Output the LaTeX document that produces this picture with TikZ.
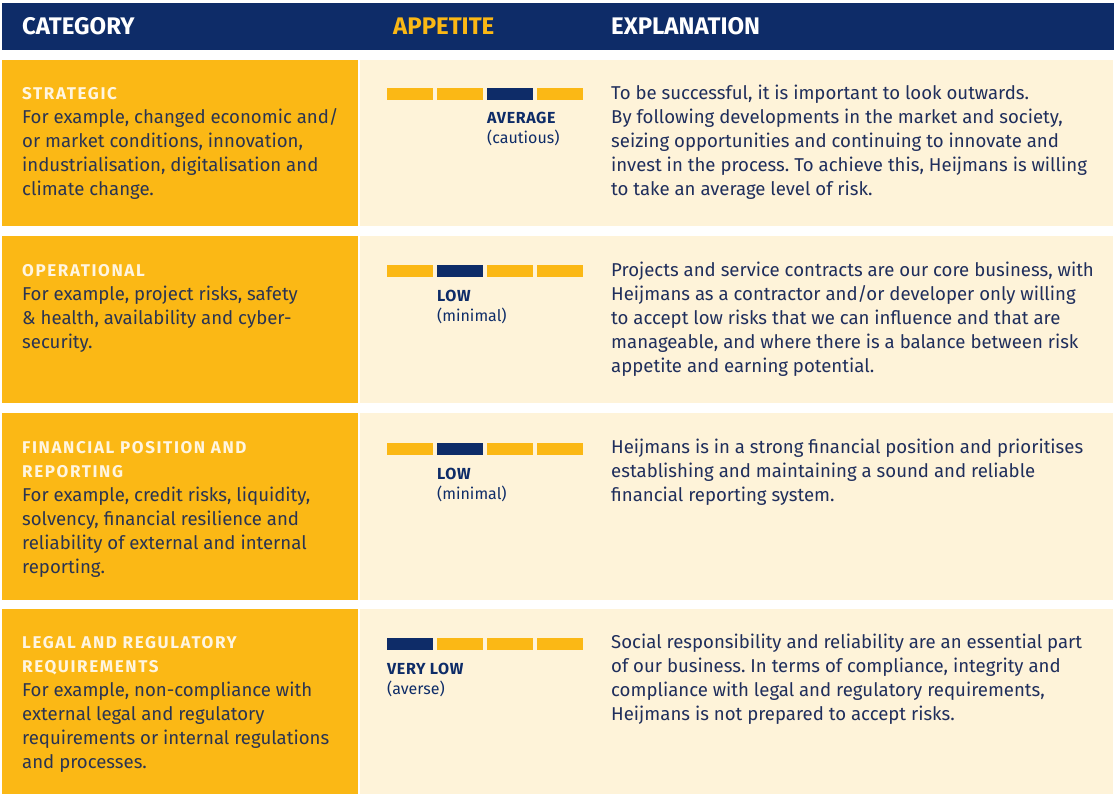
\documentclass[tikz,border=0pt]{standalone}
\usepackage{fontspec}
\setmainfont{Fira Sans}
\newfontfamily\ttlfont[LetterSpace=9.5]{Fira Sans}
\newfontfamily\lvlfont[LetterSpace=4]{Fira Sans}
\frenchspacing
\definecolor{navy}{HTML}{0E2C68}
\definecolor{amber}{HTML}{FBB815}
\definecolor{cream}{HTML}{FEF3D9}
\definecolor{bodytxt}{HTML}{2A3452}
\definecolor{expltxt}{HTML}{1F2E5C}
\definecolor{titletxt}{HTML}{FFF5E0}
\tikzset{
  hdr/.style={anchor=base west, inner sep=0, font=\fontsize{24}{28}\selectfont\bfseries},
  cattitle/.style={anchor=north west, inner sep=0, align=left, text=titletxt, font=\ttlfont\fontsize{17}{24}\selectfont\bfseries},
  catbody/.style={anchor=north west, inner sep=0, align=left, text=bodytxt, font=\fontsize{18.6}{24}\selectfont},
  expl/.style={anchor=north west, inner sep=0, align=left, text=expltxt, font=\fontsize{18.6}{24}\selectfont},
  lvl/.style={anchor=base west, inner sep=0, text=navy, font=\lvlfont\fontsize{16}{20}\selectfont\bfseries},
  lvlsub/.style={anchor=base west, inner sep=0, text=navy, font=\fontsize{16}{20}\selectfont},
}
\newcommand{\appbar}[2]{% #1 top y, #2 index of dark segment
  \foreach \i in {1,2,3,4}{
    \pgfmathsetmacro{\xa}{387+(\i-1)*50}
    \ifnum\i=#2 \fill[navy] (\xa,#1) rectangle ++(46,12);
    \else \fill[amber] (\xa,#1) rectangle ++(46,12); \fi
  }
}
\begin{document}
\begin{tikzpicture}[x=1pt,y=-1pt]
\useasboundingbox (0,0) rectangle (1117,794);
\fill[white] (0,0) rectangle (1117,794);
% header
\fill[navy] (2,3) rectangle (1114,50);
\node[hdr,text=white] (hcat) at (22,35) {CATEGORY};
\node[hdr,text=amber] (happ) at (393,35) {APPETITE};
\node[hdr,text=white] (hexp) at (611,35) {EXPLANATION};
% row backgrounds
\fill[amber] (2,60) rectangle (358,226);
\fill[cream] (360,60) rectangle (1113,226);
\fill[amber] (2,236) rectangle (358,403);
\fill[cream] (360,236) rectangle (1113,403);
\fill[amber] (2,413) rectangle (358,600);
\fill[cream] (360,413) rectangle (1113,600);
\fill[amber] (2,609) rectangle (358,794);
\fill[cream] (360,609) rectangle (1113,794);
% row 1
\node[cattitle] (t1) at (22,82.2) {\strut STRATEGIC};
\node[catbody] (b1) at (22,106.2) {\strut For example, changed economic and/\\or market conditions, innovation,\\industrialisation, digitalisation and\\climate change.};
\appbar{88}{3}
\node[lvl] (l1) at (487,124) {AVERAGE};
\node[lvlsub] (s1) at (487,144) {(cautious)};
\node[expl] (e1) at (611,82.2) {\strut To be successful, it is important to look outwards.\\By following developments in the market and society,\\seizing opportunities and continuing to innovate and\\invest in the process. To achieve this, Heijmans is willing\\to take an average level of risk.};
% row 2
\node[cattitle] (t2) at (22,259.2) {\strut OPERATIONAL};
\node[catbody] (b2) at (22,283.2) {\strut For example, project risks, safety\\\& health, availability and cyber-\\security.};
\appbar{265}{2}
\node[lvl] (l2) at (437,302) {LOW};
\node[lvlsub] (s2) at (437,322) {(minimal)};
\node[expl] (e2) at (611,259.2) {\strut Projects and service contracts are our core business, with\\Heijmans as a contractor and/or developer only willing\\to accept low risks that we can influence and that are\\manageable, and where there is a balance between risk\\appetite and earning potential.};
% row 3
\node[cattitle] (t3) at (22,436.2) {\strut FINANCIAL POSITION AND\\REPORTING};
\node[catbody] (b3) at (22,484.2) {\strut For example, credit risks, liquidity,\\solvency, financial resilience and\\reliability of external and internal\\reporting.};
\appbar{443}{2}
\node[lvl] (l3) at (437,479) {LOW};
\node[lvlsub] (s3) at (437,499) {(minimal)};
\node[expl] (e3) at (611,436.2) {\strut Heijmans is in a strong financial position and prioritises\\establishing and maintaining a sound and reliable\\financial reporting system.};
% row 4
\node[cattitle] (t4) at (22,631.2) {\strut LEGAL AND REGULATORY\\REQUIREMENTS};
\node[catbody] (b4) at (22,679.2) {\strut For example, non-compliance with\\external legal and regulatory\\requirements or internal regulations\\and processes.};
\appbar{638}{1}
\node[lvl] (l4) at (387,674) {VERY LOW};
\node[lvlsub] (s4) at (387,694) {(averse)};
\node[expl] (e4) at (611,631.2) {\strut Social responsibility and reliability are an essential part\\of our business. In terms of compliance, integrity and\\compliance with legal and regulatory requirements,\\Heijmans is not prepared to accept risks.};
\end{tikzpicture}
\end{document}
